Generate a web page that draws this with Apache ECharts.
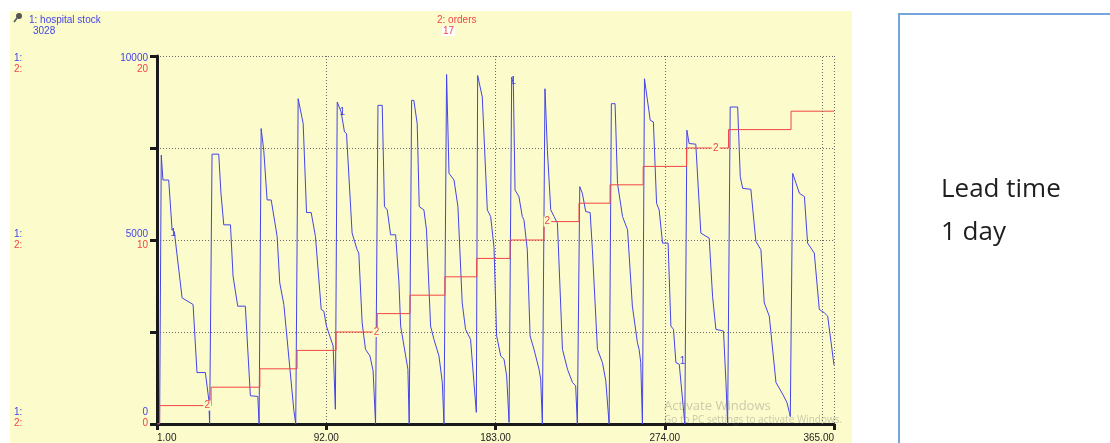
<!DOCTYPE html>
<html><head><meta charset="utf-8">
<script src="https://cdn.jsdelivr.net/npm/echarts@6/dist/echarts.min.js"></script>
<style>html,body{margin:0;padding:0;background:#fff;}#c{width:1110px;height:443px;}</style>
</head><body><div id="c"></div>
<script>
// ---- data ----
const stockPoints = [
  [1,0],[2.4,0],[3.3,7306],[4.2,6630],[7.3,6630],[9.1,5277],[10.3,5232],[14.5,3428],[20.4,3247],[22.5,1398],[27,1398],[28.8,677],[29.3,0],
  [29.7,0],[30.6,7333],[34.2,7333],[35.4,6269],[36.9,5412],[40.5,5412],[41.9,4014],[44.4,3202],[48.5,3202],[51.2,767],[55.2,749],[55.9,0],
  [56.3,0],[57,8028],[58.4,7441],[60.2,6088],[62.4,6088],[65.6,5096],[67,3834],[69.2,3247],[74.6,361],[75.6,0],
  [76.3,0],[76.9,8840],[79.6,8163],[81.4,5746],[83.9,5746],[86.2,5096],[89.3,3112],[90.7,3067],[92.1,2661],[95.7,2120],[96.9,400],
  [97.9,8749],[100,8479],[101.8,7938],[102.9,7893],[105.9,5187],[108.6,4736],[109.5,4645],[111.3,2751],[113.1,2030],[115.5,1849],[117.2,1443],[118.5,0],
  [119,0],[119.8,8659],[122.1,8659],[123.3,5908],[124.8,5818],[126.6,5141],[129.3,5141],[131.1,3834],[132,2661],[132.9,2390],[135.9,1488],[136.6,0],
  [137,0],[137.9,8795],[139.1,8795],[140.9,8163],[142,5908],[144.5,5818],[145.9,5277],[148.1,2661],[149.9,2300],[152.6,1849],[154.4,1128],[155.3,0],
  [155.8,0],[156.7,9498],[157.4,9498],[158,6810],[160.7,6630],[162.8,5908],[165.1,3292],[166.9,2571],[169.6,2300],[171.4,1128],[172.7,316],
  [172.9,300],[173.4,9471],[175.9,8885],[178.6,5818],[180.4,5638],[182.2,4800],[183.6,2400],[185.8,1849],[187.6,1759],[189,1308],[190.3,45],
  [190.8,0],[191.7,9426],[192.6,9245],[193.5,6359],[195.6,6179],[197.4,5638],[198.3,5548],[200.1,4736],[201.6,2390],[203.7,2030],[206.4,1488],[207.3,1218],[208.2,0],
  [208.7,0],[209.6,9110],[210.9,7441],[212.7,5818],[214.5,5638],[216.3,5457],[219,2030],[221.7,1488],[224.4,1128],[226.1,1037],[227,0],
  [227.6,0],[228.3,6449],[229.7,6269],[231.5,5773],[233.9,5746],[235.1,4736],[237.8,2030],[240.5,1669],[242.3,1173],[244.1,0],
  [244.6,0],[245.3,8704],[247.3,8704],[248.6,6540],[251.3,5638],[254,5277],[256.6,3202],[259.3,2210],[260.2,2030],[261.1,1669],[262,0],
  [262.4,0],[263.1,9381],[266.2,8253],[267.9,8208],[269.6,5998],[271,5818],[272.8,4916],[275.8,4916],[277.3,2661],[278.7,2571],[280,1669],[281.8,1624],[284.8,0],
  [285.4,0],[285.9,7983],[287.1,7622],[290.7,7604],[293.4,5187],[297.9,5051],[299.7,3473],[301.5,2571],[305.6,2526],[306.9,1128],[307.8,0],
  [308.3,0],[309.2,8614],[313.2,8614],[314.6,6720],[315.9,6404],[320.3,6377],[323,4961],[325.7,4736],[327.5,3292],[330.2,2932],[333.8,1128],[337.4,812],[339.7,586],[341,316],
  [341.5,200],[342.8,6810],[344.6,6540],[346.4,6269],[349.1,6179],[350.8,4916],[354.4,4645],[357.1,3112],[359.8,3022],[361.6,2932],[365,1600]
];
const orderDays   = [1, 2.4, 30.1, 56.3, 76.3, 97.3, 119.4, 137, 155.8, 172.9, 190.8, 209.1, 227.9, 244.6, 262.4, 285.7, 308.3, 341.9, 365];
const orderValues = [0, 1, 2, 3, 4, 5, 6, 7, 8, 9, 10, 11, 12, 13, 14, 15, 16, 17, 17];
const xTicks = [1, 92, 183, 274, 365];
const stockTicks = [0, 5000, 10000];
const orderTicks = [0, 10, 20];
const stockLabelPts = [[9.8,5182],[100.6,8479],[192.6,9318],[283.6,1714]];
const orderLabelPts = [[28,1],[119,5],[210.9,11],[301.5,15]];
const cursorDay = 358.5;
const stockName = '1: hospital stock', orderName = '2: orders';
const cursorStock = '3028', cursorOrders = '17';
const noteLines = ['Lead time', '1 day'];

// ---- chart ----
const BLUE = '#4444E8', RED = '#F24646', YEL = '#FBFBCB';
const chart = echarts.init(document.getElementById('c'), null, {renderer: 'canvas'});
function stackLabel(i, a, b) {
  const n = stockTicks.length;
  if (i === n - 1) return '{s| }\n{' + a + '}\n{' + b + '}';
  if (i === 0) return '{' + a + '}\n{' + b + '}\n{t| }';
  return '{' + a + '}\n{' + b + '}';
}
const richBase = {
  b: {color: BLUE, fontSize: 10, lineHeight: 11, fontFamily: 'Liberation Sans'},
  r: {color: RED, fontSize: 10, lineHeight: 11, fontFamily: 'Liberation Sans'},
  s: {fontSize: 10, lineHeight: 15},
  t: {fontSize: 10, lineHeight: 13}
};
const option = {
  animation: false,
  backgroundColor: '#ffffff',
  graphic: [
    {type: 'rect', z: -100, shape: {x: 10, y: 11, width: 842, height: 432}, style: {fill: YEL}},
    {type: 'polyline', z: 5, shape: {points: [[899, 443], [899, 14], [1110, 14]]}, style: {stroke: '#76A5DB', lineWidth: 2, fill: null}},
    {type: 'text', z: 10, left: 941, top: 168, style: {text: noteLines.join('\n'), font: '26px "Open Sans"', fill: '#1e1e1e', lineHeight: 43}},
    {type: 'text', z: 10, left: 29, top: 15, style: {text: stockName, font: '10px "Liberation Sans"', fill: BLUE}},
    {type: 'text', z: 10, left: 33, top: 26, style: {text: cursorStock, font: '10px "Liberation Sans"', fill: BLUE}},
    {type: 'text', z: 10, left: 437, top: 15, style: {text: orderName, font: '10px "Liberation Sans"', fill: RED}},
    {type: 'text', z: 10, left: 442, top: 26, style: {text: cursorOrders, font: '10px "Liberation Sans"', fill: RED, backgroundColor: '#ffffff', padding: [0, 1]}},
    {type: 'circle', z: 10, shape: {cx: 19, cy: 16, r: 3}, style: {fill: '#555'}},
    {type: 'line', z: 10, shape: {x1: 17, y1: 18, x2: 14, y2: 22}, style: {stroke: '#555', lineWidth: 1.5}},
    {type: 'text', z: 50, left: 664, top: 400, style: {text: 'Activate Windows', font: '13px "Open Sans"', fill: 'rgba(110,110,110,0.35)'}},
    {type: 'text', z: 50, left: 664, top: 415, style: {text: 'Go to PC settings to activate Windows.', font: '10px "Open Sans"', fill: 'rgba(110,110,110,0.35)'}}
  ],
  grid: {left: 157, right: 276, top: 56, bottom: 19, containLabel: false},
  xAxis: {
    type: 'value', min: xTicks[0], max: xTicks[xTicks.length - 1], interval: xTicks[1] - xTicks[0],
    axisLine: {show: true, lineStyle: {color: '#1a1a1a', width: 3}},
    axisTick: {show: true, length: 6, lineStyle: {color: '#1a1a1a', width: 3}},
    axisLabel: {formatter: v => Number(v).toFixed(2), color: '#222', fontSize: 10, fontFamily: 'Liberation Sans', margin: 9, alignMinLabel: 'left', alignMaxLabel: 'right'},
    splitLine: {show: true, lineStyle: {type: [1, 2], color: '#6a6a6a', width: 1}}
  },
  yAxis: [
    {
      type: 'value', min: 0, max: stockTicks[stockTicks.length - 1], interval: 2500, position: 'left',
      axisLine: {show: true, lineStyle: {color: '#1a1a1a', width: 3}},
      axisTick: {show: true, length: 7, lineStyle: {color: '#1a1a1a', width: 3}},
      splitLine: {show: true, lineStyle: {type: [1, 2], color: '#6a6a6a', width: 1}},
      axisLabel: {
        margin: 9, align: 'right',
        formatter: v => {
          const i = stockTicks.indexOf(Math.round(v));
          if (i < 0) return '';
          return stackLabel(i, 'b|' + stockTicks[i], 'r|' + orderTicks[i]);
        },
        rich: richBase
      }
    },
    {
      type: 'value', min: 0, max: orderTicks[orderTicks.length - 1], interval: orderTicks[1] - orderTicks[0], position: 'left',
      axisLine: {show: false}, axisTick: {show: false}, splitLine: {show: false},
      axisLabel: {
        margin: 143, align: 'left',
        formatter: v => {
          const i = orderTicks.indexOf(Math.round(v));
          if (i < 0) return '';
          return stackLabel(i, 'b|1:', 'r|2:');
        },
        rich: richBase
      }
    }
  ],
  series: [
    {
      name: 'hospital stock', type: 'line', yAxisIndex: 0, data: stockPoints, showSymbol: false, symbol: 'none',
      lineStyle: {color: BLUE, width: 1}, z: 3,
      markPoint: {
        symbol: 'circle', symbolSize: 1, itemStyle: {color: 'rgba(0,0,0,0)'},
        label: {show: true, position: 'inside', formatter: '1', color: BLUE, fontSize: 10, fontFamily: 'Liberation Sans'},
        data: stockLabelPts.map(p => ({coord: p}))
      },
      markLine: {
        symbol: 'none', silent: true, label: {show: false},
        lineStyle: {type: [1, 2], color: '#6a6a6a', width: 1},
        data: [{xAxis: cursorDay}]
      }
    },
    {
      name: 'orders', type: 'line', yAxisIndex: 1, step: 'end',
      data: orderDays.map((d, i) => [d, orderValues[i]]), showSymbol: false, symbol: 'none',
      lineStyle: {color: RED, width: 1}, z: 4,
      markPoint: {
        symbol: 'circle', symbolSize: 1, itemStyle: {color: 'rgba(0,0,0,0)'},
        label: {show: true, position: 'inside', formatter: '2', color: RED, fontSize: 10, fontFamily: 'Liberation Sans', backgroundColor: YEL, padding: [0, 1]},
        data: orderLabelPts.map(p => ({coord: p}))
      }
    }
  ]
};
chart.setOption(option);
</script>
</body></html>
